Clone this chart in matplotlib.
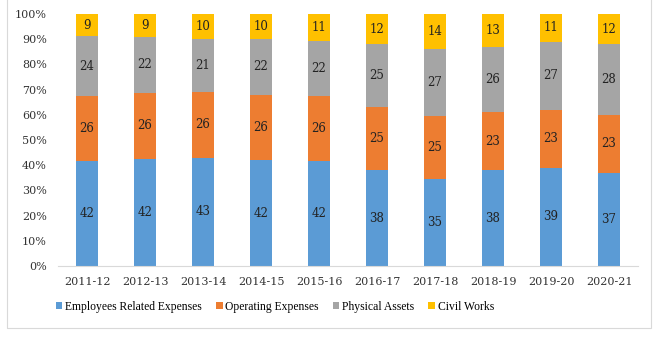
import numpy as np
import matplotlib
matplotlib.use("Agg")
import matplotlib.pyplot as plt
from matplotlib.patches import Rectangle

years = ["2011-12", "2012-13", "2013-14", "2014-15", "2015-16",
         "2016-17", "2017-18", "2018-19", "2019-20", "2020-21"]
employees = [42, 42, 43, 42, 42, 38, 35, 38, 39, 37]
operating = [26, 26, 26, 26, 26, 25, 25, 23, 23, 23]
physical = [24, 22, 21, 22, 22, 25, 27, 26, 27, 28]
civil = [9, 9, 10, 10, 11, 12, 14, 13, 11, 12]

series = [
    ("Employees Related Expenses", employees, "#5B9BD5"),
    ("Operating Expenses", operating, "#ED7D31"),
    ("Physical Assets", physical, "#A5A5A5"),
    ("Civil Works", civil, "#FFC000"),
]

TICK_FONT = "DejaVu Serif"
LEG_FONT = "Liberation Serif"

fig = plt.figure(figsize=(6.6, 3.55), dpi=100)
ax = fig.add_axes([0.0879, 0.2507, 0.8788, 0.7099])

x = np.arange(len(years))
totals = np.sum([s[1] for s in series], axis=0)
bottom = np.zeros(len(years))
for name, vals, color in series:
    pct = np.array(vals) / totals * 100
    ax.bar(x, pct, width=0.39, bottom=bottom, color=color, label=name)
    for xi, b, p, v in zip(x, bottom, pct, vals):
        ax.text(xi, b + p / 2, str(v), ha="center", va="center",
                fontsize=8.5, family=TICK_FONT, color="#222222")
    bottom += pct

ax.set_xlim(-0.5, len(years) - 0.5)
ax.set_ylim(0, 100)
ax.set_yticks(range(0, 101, 10))
ax.set_yticklabels([f"{v}%" for v in range(0, 101, 10)])
ax.set_xticks(x)
ax.set_xticklabels(years)
for lbl in ax.get_xticklabels() + ax.get_yticklabels():
    lbl.set_family(TICK_FONT)
    lbl.set_fontsize(8)
    lbl.set_color("#333333")
ax.tick_params(length=0, pad=8)
for sp in ["top", "right", "left"]:
    ax.spines[sp].set_visible(False)
ax.spines["bottom"].set_color("#D9D9D9")

leg = fig.legend(loc="center left", bbox_to_anchor=(56 / 660, 0.135), ncol=4,
                 frameon=False, handlelength=0.55, handleheight=0.55,
                 handletextpad=0.25, columnspacing=1.2, borderpad=0,
                 borderaxespad=0,
                 prop={"family": LEG_FONT, "size": 8.4})

fig.patches.append(Rectangle((7 / 660, 1 - 328 / 355), 644 / 660, 328 / 355 + 0.01,
                             transform=fig.transFigure, fill=False,
                             edgecolor="#D9D9D9", lw=0.8))

fig.savefig("out.png", dpi=100)
